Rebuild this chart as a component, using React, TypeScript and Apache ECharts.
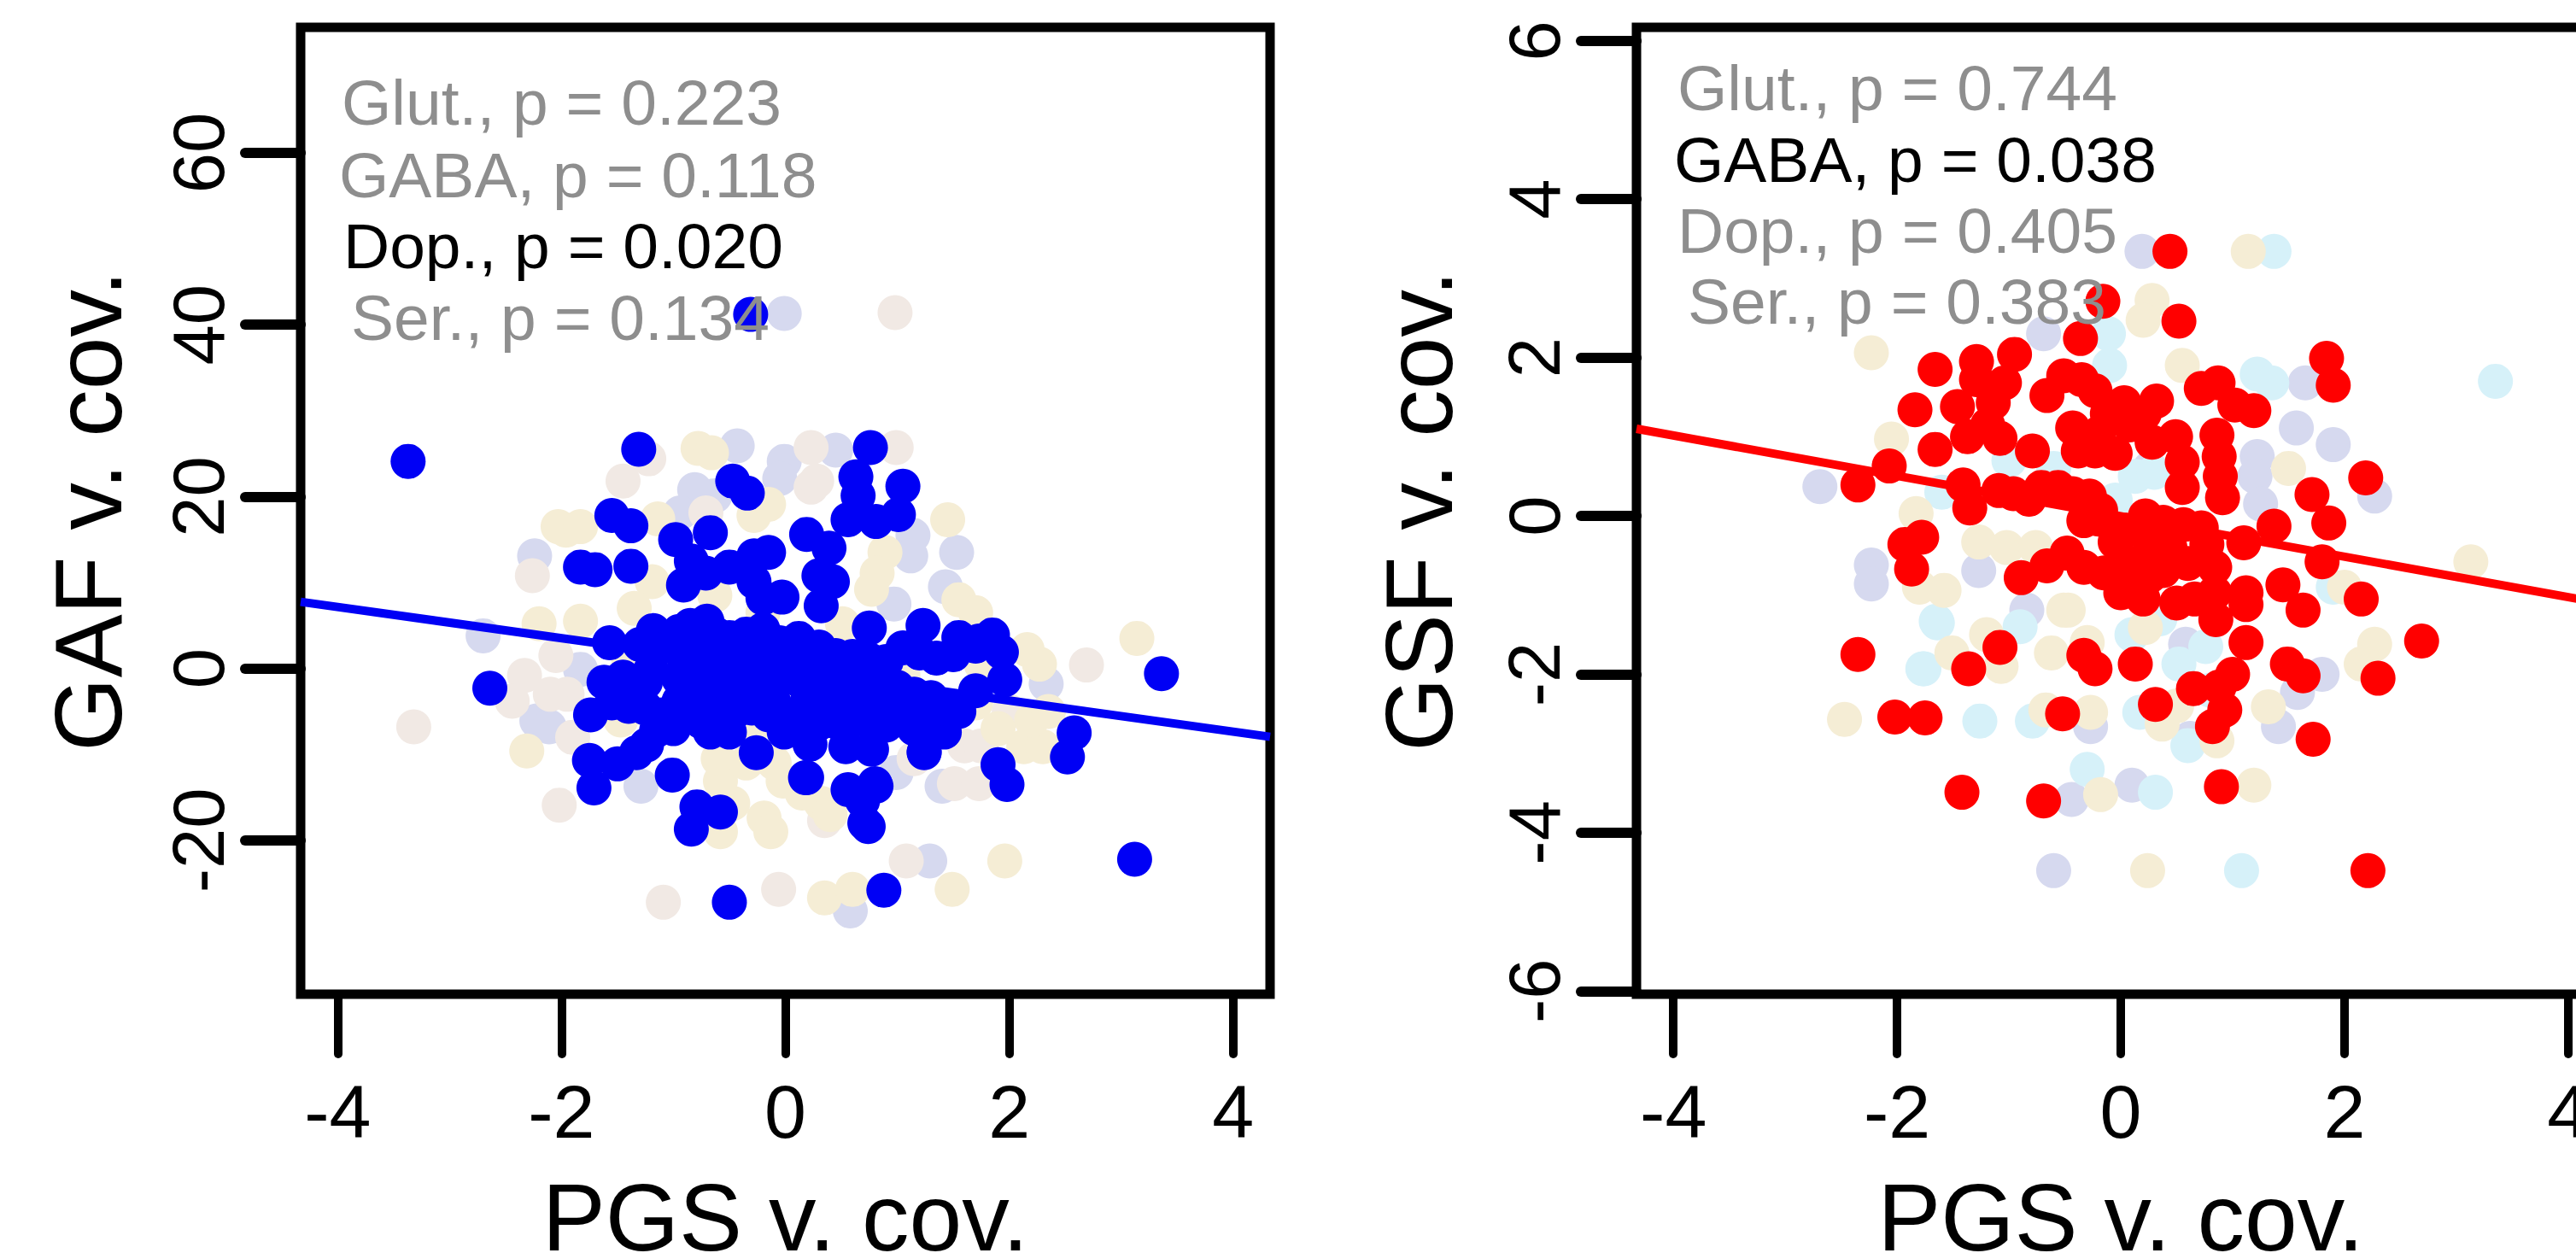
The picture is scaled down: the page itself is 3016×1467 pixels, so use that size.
import React, { useEffect, useRef } from "react";
import * as echarts from "echarts";

const xTicks = [-4, -2, 0, 2, 4];
const gafTicks = [-20, 0, 20, 40, 60];
const gsfTicks = [-6, -4, -2, 0, 2, 4, 6];

const gafLegend = [
  { text: "Glut., p = 0.223", on: false },
  { text: "GABA, p = 0.118", on: false },
  { text: "Dop., p = 0.020", on: true },
  { text: "Ser., p = 0.134", on: false },
];
const gsfLegend = [
  { text: "Glut., p = 0.744", on: false },
  { text: "GABA, p = 0.038", on: true },
  { text: "Dop., p = 0.405", on: false },
  { text: "Ser., p = 0.383", on: false },
];

const gafLine = [[-4.33, 7.75], [4.33, -7.95]];
const gsfLine = [[-4.33, 1.1], [4.33, -1.11]];

const gafDop = [
  [-1.31,25.5],[0.76,25.7],[0.63,22.3],[0.65,20.1],[1.05,21.2],[1.01,17.9],[0.81,17.1],[0.56,17.3],[-0.47,21.8],[-0.34,20.4],
  [-1.55,17.8],[-1.38,16.6],[-1.83,11.8],[-1.7,11.5],[-1.38,11.9],[-0.98,15],[-0.67,15.8],[-0.84,12.5],[-0.91,9.7],[-0.71,11.1],
  [-0.5,11.8],[-0.28,13.1],[-0.15,13.5],[-0.28,10.1],[-0.03,8.3],[-0.2,8.2],[0.19,15.6],[0.39,14],[0.3,10.8],[0.42,10.1],
  [0.32,7.3],[0.75,4.7],[1.23,5],[-1.57,3],[-1.74,-5.4],[-1.75,-10.7],[-1.5,-11.1],[-1.71,-13.9],[-1.01,-12.4],[-0.79,-16.1],
  [-0.58,-16.7],[-0.84,-18.7],[-1.24,-8.9],[-1.33,-9.8],[-0.67,-7.4],[-0.5,-7.4],[-0.26,-9.8],[-0.01,-7.4],[0.22,-8.8],[0.19,-12.7],
  [0.54,-9.1],[0.77,-9.4],[0.56,-14.1],[0.81,-13.7],[0.69,-15.4],[0.74,-18.4],[1.24,-9.8],[1.38,-6.8],
  [-2.64,-2.3],[3.36,-0.6],[1.96,-1.3],[1.93,1.9],[1.73,3.2],[2.58,-7.5],[2.52,-10.3],[1.9,-11.2],[1.98,-13.5],[1.24,-9.7],
  [1.42,-7.4],[1.39,-5.8],[0.18,-12.7],[0.71,-18],[0.69,-14.7],[0.8,-13.4],[0.88,-25.8],[-0.5,-27.2],[3.12,-22.2],[-3.37,24.1],[-0.31,41.2],
  [-1.18,4.4],[-1.3,2.8],[-1.15,2.2],[-0.95,4.3],[-0.85,5],[-0.7,5.5],[-0.62,4],[-0.85,2],[-0.7,2.6],[-0.5,3.6],[-0.35,4],[-0.2,4.5],
  [-0.05,3],[0.12,3.5],[0.3,2.5],[0.45,1.5],[-1.2,-0.1],[-1.25,-1.6],[-1.45,-1],[-1.62,-1.6],[-1.5,-2.6],[-1.35,-3.2],[-1.25,-4.6],
  [-1.1,-5.4],[-1,-7],[-1.15,-7.2],[-1.4,-4.4],[-1.55,-4],[-0.9,0.4],[-0.75,1.2],[-0.6,1],[-0.45,1.9],[-0.3,1.8],[-0.15,1.5],
  [0,1.4],[0.15,0.8],[0.3,0.6],[0.45,-0.2],[0.6,1.4],[0.75,1],[0.9,0.8],[1.05,2.4],[1.2,1.8],[1.35,1.2],[1.5,1.6],[1.55,3.6],
  [1.7,2.6],[1.85,3.9],[-0.95,-1.2],[-0.8,-2.2],[-0.65,-0.9],[-0.5,-0.6],[-0.35,-0.3],[-0.2,-0.6],[-0.05,-0.8],[0.1,-1.2],[0.25,-1.6],
  [0.35,-2],[0.55,-1.6],[0.7,-0.9],[0.85,-1.5],[1,-2.2],[1.15,-3],[1.3,-3.4],[-0.95,-3.8],[-0.8,-4],[-0.65,-3],[-0.5,-2.8],
  [-0.35,-2.4],[-0.2,-2.6],[-0.1,-4],[0.2,-3.6],[0.3,-4.2],[0.6,-3.6],[0.75,-3.2],[0.9,-4],[1.05,-4.2],[1.25,-5.2],[1.4,-4.6],
  [1.55,-5],[1.7,-2.6],[-0.9,-5.6],[-0.75,-6.2],[-0.6,-5.4],[-0.45,-5],[-0.3,-4.6],[-0.15,-5.4],[0,-5.8],[0.15,-6.2],[0.3,-6.4],
  [0.45,-6.2],[0.6,-5.6],[0.75,-6.2],[0.9,-6.6],[1.05,-6],[1.15,-7],
];
const gafGlut = [
  [-0.78,25.6],[-0.66,25.1],[-1.96,16.1],[-2.03,16.5],[-1.83,16.5],[-0.28,17.8],[-0.15,19.1],[0.89,13.5],[0.82,11.1],[0.77,9.2],
  [1.45,17.3],[-1.14,17.4],[-1.19,10.1],[-1.83,5.5],[-2.2,5.2],[-0.63,8.5],[0.51,5.2],[3.14,3.5],[2.27,0.5],[2.16,2.2],[-2.31,-9.6],
  [1.96,-22.4],[1.49,-25.7],[0.35,-26.7],[0.6,-25.7],[-0.47,-15.7],[-0.19,-17.4],[-0.58,-19],[-0.13,-19],[-0.58,-13.1],[-0.02,-13.1],
  [0.32,-15.7],[2.13,-9.1],[2.3,-9.1],[-1.47,-6],[-0.3,-6.9],[1.05,-0.8],[-1.4,1],[1.75,0.5],[-0.6,-10.5],[-0.35,-11],[-0.1,-11],[0.15,-14.5],[0.4,-17],
  [1.7,-4],[1.9,-7],[2.2,-6],[2.35,-5],[-1.35,7],[-0.2,6.5],[1.55,8],[1.7,6.5],
];
const gafGaba = [
  [0.23,25.7],[0.99,25.7],[0.23,21.1],[-0.71,18.1],[0.28,21.8],[-1.22,24.4],[-1.45,21.8],[-2.26,10.8],[-3.32,-6.8],[-2.33,-0.8],
  [-2.05,1.5],[2.69,0.4],[-1.09,-27.2],[-0.06,-25.7],[1.08,-22.4],[1.51,-13.4],[1.73,-13.4],[0.35,-17.7],[-2.02,-15.9],[-2.44,-3.8],[0.98,41.4],[1.15,-10.5],[1.6,-9],
  [2,-5],[1.75,-9],[-1.95,-3],[-1.9,-8],[-2.1,-3],
];
const gafSer = [
  [-0.43,25.9],[-0.01,24.1],[-0.05,22.1],[0.45,25.4],[-0.81,20.8],[-0.63,20.1],[-0.94,18.1],[1.14,15.5],[1.12,13.1],[1.43,9.5],
  [0.97,7.5],[1.53,13.5],[-2.24,13.1],[-2.7,3.8],[-2.22,-6.1],[-2.11,-6.8],[2.33,-1.8],[1.29,-22.4],[0.58,-28.2],[-1.29,-13.7],
  [0.99,-12.1],[1.4,-13.7],[-1.83,-0.1],[-0.01,41.3],
];

const gsfGaba = [
  [0.44,3.34],[0.52,2.46],[-0.16,2.71],[-0.36,2.24],[1.84,1.99],[1.9,1.65],[2.19,0.48],[2.15,-1.05],[1.71,0.27],[1.86,-0.09],
  [1.37,-0.13],[1.1,-0.34],[1.8,-0.58],[1.45,-0.87],[1.63,-1.19],[-2.35,0.39],[-2.07,0.63],[-1.84,1.34],[-1.66,1.85],[-1.66,0.84],
  [-1.29,1.95],[-0.95,2.04],[-1.46,1.38],[-1.29,1.72],[-1.04,1.68],[-1.14,1.43],[-1.19,1.15],[-1.37,1],[-1.08,0.98],[-0.79,0.82],
  [-0.51,1.77],[-0.66,1.52],[-0.35,1.72],[-0.23,1.58],[0.03,1.43],[0.32,1.45],[-0.43,1.11],[-0.38,0.82],[-0.2,1.04],[-0.05,0.79],
  [0.08,1.15],[0.21,1.29],[-0.12,1.29],[-0.23,0.82],[0.49,1],[0.28,0.93],[0.55,0.68],[0.55,0.36],[0.72,1.61],[0.87,1.68],
  [1.02,1.4],[1.19,1.33],[0.86,1.02],[0.88,0.75],[0.89,0.5],[0.91,0.23],[-1.41,0.39],[-1.35,0.1],[-1.09,0.32],[-0.96,0.28],
  [-0.82,0.21],[-0.71,0.36],[-0.56,0.36],[-0.43,0.28],[-0.28,0.25],[-0.18,0.07],[-0.33,-0.06],[-0.2,-0.04],[0.22,0],[0.38,-0.08],
  [0.56,-0.11],[0.72,-0.15],[0.05,-0.18],[-0.05,-0.33],[0.26,-0.33],[0.44,-0.4],[0.77,-0.36],[0.84,-0.65],[-0.48,-0.47],[-0.66,-0.63],
  [-0.89,-0.78],[-0.33,-0.65],[-0.15,-0.72],[0,-0.97],[0.23,-0.65],[0.33,-0.54],[0.5,-1.1],[0.66,-1.05],[0.85,-1.31],[0.84,-0.97],
  [1.12,-1.12],[1.12,-0.97],[1.12,-1.6],[0.38,-0.69],[0.26,-0.76],[-1.78,-0.27],[-1.93,-0.36],[-1.87,-0.67],[-1.08,-1.66],[-1.36,-1.93],
  [-0.33,-1.76],[-0.23,-1.93],[0.13,-1.87],[0.31,-2.38],[0.65,-2.18],[1,-2],[0.88,-2.16],[0.93,-2.45],[0.82,-2.66],[-0.52,-2.5],
  [-2.02,-2.54],[-1.75,-2.55],[1.49,-1.87],[1.63,-2.02],[-2.35,-1.75],[2.69,-1.58],[2.3,-2.05],[1.72,-2.82],[-1.42,-3.49],[-0.69,-3.6],
  [0.9,-3.42],[2.21,-4.48],[0.1,-0.6],[0.6,-0.6],[0.2,-1.05],
];
const gsfGlut = [
  [-2.47,-2.57],[-0.18,-3.52],[1.19,-3.4],[0.24,-4.48],[2.27,-1.62],[2.15,-1.87],[-1.51,-1.73],[-1.07,-1.9],[-0.62,-1.73],[-0.27,-2.48],
  [-0.67,-2.45],[0.37,-2.63],[1.32,-2.41],[0.22,-1.41],[-0.47,-1.19],[0.86,-2.84],[1.14,3.34],[-2.23,2.06],[0.28,2.72],[0.2,2.47],
  [-2.05,0.97],[3.13,-0.58],[-1.58,-0.94],[-0.51,-1.19],[-1.27,-0.33],[-1.02,-0.4],[-0.76,-0.4],[-1.83,0.03],[0.55,1.9],[1.5,0.6],[2.0,-0.9],
  [-0.3,-1.6],[0.5,-2.4],[-1.8,-0.9],[-1.2,-1.5],
];
const gsfDop = [
  [-0.6,-4.48],[0.1,-3.4],[-0.44,-3.58],[0.62,-2.81],[1.41,-2.66],[1.58,-2.23],[1.8,-2],[-0.84,-1.19],[0.58,-1.62],[-0.27,-2.66],
  [0.19,3.34],[-0.69,2.3],[1.65,1.68],[1.57,1.11],[1.22,0.75],[-2.69,0.37],[2.27,0.25],[-2.23,-0.62],[-2.23,-0.86],[-1.27,-0.69],[0.26,0.6],[1.2,0.5],[1.25,0.15],
  [1.9,0.9],
];
const gsfSer = [
  [-1.76,-1.93],[-1.26,-2.59],[-0.79,-2.59],[0.31,-3.49],[1.08,-4.48],[-1.64,-1.35],[0.52,-1.87],[0.17,-2.48],[0.76,-1.65],[1.37,3.34],
  [-0.11,2.3],[1.22,1.79],[3.35,1.7],[-1.65,-1.33],[-1.77,-1.93],[0.13,0.5],[1.35,1.68],[-1.6,0.3],[-1.0,0.7],[-0.6,0.6],[0.3,0.55],[-0.05,0.2],[-0.9,-1.4],[0.1,-1.5],[-0.1,1.9],
  [0.35,-1.3],[0.6,-2.9],[-0.3,-3.2],[0.8,-2.2],[1.9,-0.9],
];

const FONT = "Liberation Sans";

const makeAxes = (gridIndex: number, yMin: number, yMax: number, yTicks: number[], yName: string, yGap: number) => ({
  x: {
    type: "value",
    gridIndex,
    position: "bottom",
    min: -4.33,
    max: 4.33,
    name: "PGS v. cov.",
    nameLocation: "middle",
    nameGap: 206,
    nameMoveOverlap: false,
    nameTextStyle: { fontFamily: FONT, fontSize: 111, color: "#000" },
    splitLine: { show: false },
    axisLine: { show: false, onZero: false },
    axisTick: { show: true, length: 70, customValues: xTicks, lineStyle: { color: "#000", width: 10, cap: "round" } },
    axisLabel: { show: true, margin: 93, customValues: xTicks, fontFamily: FONT, fontSize: 88, color: "#000", hideOverlap: false },
  },
  y: {
    type: "value",
    gridIndex,
    position: "left",
    min: yMin,
    max: yMax,
    name: yName,
    nameLocation: "middle",
    nameGap: yGap,
    nameMoveOverlap: false,
    nameTextStyle: { fontFamily: FONT, fontSize: 111, color: "#000" },
    splitLine: { show: false },
    axisLine: { show: false, onZero: false },
    axisTick: { show: true, length: 65, customValues: yTicks, lineStyle: { color: "#000", width: 12, cap: "round" } },
    axisLabel: { show: true, margin: 77, rotate: 90, customValues: yTicks, fontFamily: FONT, fontSize: 85, color: "#000", hideOverlap: false },
  },
});

const dots = (name: string, data: number[][], color: string, i: number, z: number) => ({
  name,
  type: "scatter",
  xAxisIndex: i,
  yAxisIndex: i,
  data,
  symbol: "circle",
  symbolSize: 41,
  silent: true,
  z,
  itemStyle: { color, opacity: 1 },
});

const line = (name: string, data: number[][], color: string, i: number) => ({
  name,
  type: "line",
  xAxisIndex: i,
  yAxisIndex: i,
  data,
  symbol: "none",
  silent: true,
  z: 6,
  lineStyle: { color, width: 10 },
});

const legendTexts = (items: { text: string; on: boolean }[], xs: number[], ys: number[]) =>
  items.map((it, k) => ({
    type: "text",
    x: xs[k],
    y: ys[k],
    z: 100,
    silent: true,
    style: {
      text: it.text,
      fontFamily: FONT,
      fontSize: 75,
      fill: it.on ? "#000" : "#8e8e8e",
      textAlign: "left",
      textVerticalAlign: "middle",
      verticalAlign: "middle",
    },
  }));

export default function App() {
  const ref = useRef<HTMLDivElement>(null);
  useEffect(() => {
    document.body.style.margin = "0";
    document.body.style.overflow = "hidden";
    const chart = echarts.init(ref.current!, undefined, { renderer: "svg" });
    const a = makeAxes(0, -37.9, 74.6, gafTicks, "GAF v. cov.", 193);
    const b = makeAxes(1, -6.04, 6.17, gsfTicks, "GSF v. cov.", 199);
    chart.setOption({
      animation: false,
      backgroundColor: "#fff",
      grid: [
        { left: 352, top: 32, width: 1135, height: 1132, show: true, borderColor: "#000", borderWidth: 11, backgroundColor: "transparent", containLabel: false, outerBoundsMode: "none" },
        { left: 1916, top: 32, width: 1134, height: 1132, show: true, borderColor: "#000", borderWidth: 11, backgroundColor: "transparent", containLabel: false, outerBoundsMode: "none" },
      ],
      xAxis: [a.x, b.x],
      yAxis: [a.y, b.y],
      series: [
        dots("GAF Ser.", gafSer, "#D6D9EF", 0, 2),
        dots("GAF GABA", gafGaba, "#F1E9E4", 0, 2),
        dots("GAF Glut.", gafGlut, "#F5EDD5", 0, 2),
        dots("GAF Dop.", gafDop, "#0000F5", 0, 5),
        line("GAF fit", gafLine, "#0000F5", 0),
        dots("GSF Dop.", gsfDop, "#D6D9EF", 1, 2),
        dots("GSF Ser.", gsfSer, "#D6F1F9", 1, 2),
        dots("GSF Glut.", gsfGlut, "#F5EDD5", 1, 2),
        dots("GSF GABA", gsfGaba, "#FF0000", 1, 5),
        line("GSF fit", gsfLine, "#FF0000", 1),
      ],
      graphic: [
        ...legendTexts(gafLegend, [400, 397, 402, 411], [120, 205, 288, 372]),
        ...legendTexts(gsfLegend, [1964, 1960, 1964, 1976], [103, 187, 270, 353]),
      ],
    });
    return () => chart.dispose();
  }, []);
  return <div ref={ref} style={{ position: "absolute", left: 0, top: 0, width: 3016, height: 1467 }} />;
}
